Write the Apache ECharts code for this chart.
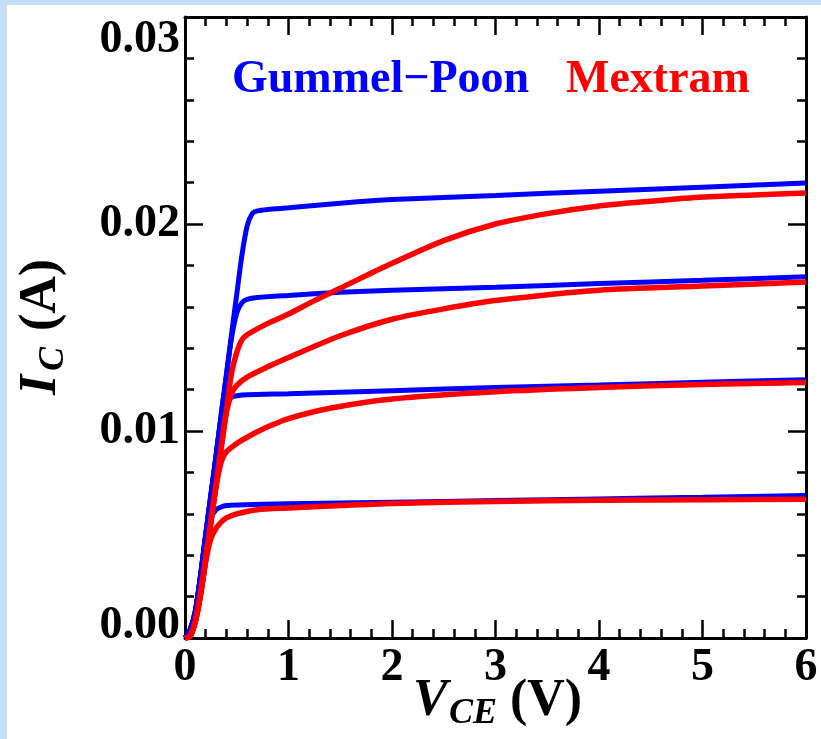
<!DOCTYPE html>
<html>
<head>
<meta charset="utf-8">
<script src="https://cdn.jsdelivr.net/npm/echarts@6/dist/echarts.min.js"></script>
<style>
  html, body { margin: 0; padding: 0; background: #c4e0f9; }
  #paper { position: absolute; left: 7px; top: 5px; right: 0; bottom: 0; background: #ffffff; }
  #chart { position: absolute; left: 0; top: 0; width: 821px; height: 739px; }
</style>
</head>
<body>
<div id="paper"></div>
<div id="chart"></div>
<script>
// Output characteristics I_C(V_CE) at four base drives, two compact models.
// Each curve is a list of [V_CE (V), I_C (A)] pairs.

// Gummel-Poon model
const gp1 = [[0,0],[0.05,0.0004],[0.1,0.0013],[0.15,0.0030],[0.2,0.0050],[0.25,0.0069],[0.3,0.0088],[0.35,0.0108],[0.4,0.0127],[0.45,0.0147],[0.5,0.0166],[0.55,0.0185],[0.6,0.0199],[0.65,0.0205],[0.7,0.02063],[0.8,0.0207],[1,0.02078],[1.5,0.0210],[2,0.02118],[3,0.02138],[4,0.02158],[5,0.02178],[6,0.02198]];
const gp2 = [[0,0],[0.05,0.0004],[0.1,0.0013],[0.15,0.0030],[0.2,0.0050],[0.25,0.0069],[0.3,0.0088],[0.35,0.0108],[0.4,0.0127],[0.45,0.0145],[0.5,0.0157],[0.55,0.0162],[0.6,0.01636],[0.7,0.01645],[1,0.01655],[1.5,0.0167],[2,0.0168],[3,0.01695],[4,0.01712],[5,0.01728],[6,0.01745]];
const gp3 = [[0,0],[0.05,0.0004],[0.1,0.0013],[0.15,0.0030],[0.2,0.0050],[0.25,0.0069],[0.3,0.0088],[0.35,0.0106],[0.4,0.0114],[0.45,0.01163],[0.5,0.0117],[0.6,0.01175],[1,0.0118],[2,0.01195],[3,0.0121],[4,0.01222],[5,0.01235],[6,0.01248]];
const gp4 = [[0,0],[0.05,0.0004],[0.1,0.0013],[0.15,0.0030],[0.2,0.0049],[0.25,0.0058],[0.3,0.0062],[0.35,0.00633],[0.4,0.0064],[0.5,0.00643],[1,0.00648],[2,0.00656],[3,0.00664],[4,0.00672],[5,0.0068],[6,0.00689]];

// Mextram model
const mx1 = [[0,0],[0.05,0.0001],[0.1,0.0008],[0.15,0.0021],[0.2,0.0038],[0.25,0.0056],[0.3,0.0074],[0.35,0.0092],[0.4,0.0110],[0.45,0.0128],[0.5,0.0138],[0.55,0.0144],[0.6,0.01465],[0.8,0.0152],[1,0.01565],[1.25,0.0163],[1.5,0.0169],[2,0.0181],[2.5,0.0192],[3,0.0200],[3.5,0.0205],[4,0.02087],[4.5,0.0211],[5,0.0213],[5.5,0.0214],[6,0.0215]];
const mx2 = [[0,0],[0.05,0.0001],[0.1,0.0008],[0.15,0.0021],[0.2,0.0038],[0.25,0.0056],[0.3,0.0074],[0.35,0.0092],[0.4,0.0109],[0.45,0.0118],[0.5,0.0122],[0.6,0.0126],[0.8,0.0131],[1,0.01355],[1.5,0.0146],[2,0.0154],[2.5,0.0159],[3,0.0163],[4,0.0168],[5,0.0170],[6,0.0172]];
const mx3 = [[0,0],[0.05,0.0001],[0.1,0.0008],[0.15,0.0021],[0.2,0.0038],[0.25,0.0056],[0.3,0.0073],[0.35,0.0085],[0.4,0.0090],[0.5,0.0094],[0.6,0.0097],[0.8,0.0102],[1,0.0106],[1.4,0.0111],[2,0.01155],[3,0.0119],[4,0.0121],[5,0.01225],[6,0.01234]];
const mx4 = [[0,0],[0.05,0.0001],[0.1,0.0008],[0.15,0.0021],[0.2,0.0037],[0.25,0.0048],[0.3,0.0053],[0.35,0.0056],[0.4,0.0058],[0.5,0.0060],[0.7,0.0062],[1,0.00628],[1.5,0.0064],[2,0.0065],[3,0.0066],[4,0.00665],[5,0.00668],[6,0.0067]];

const gpCurves = [gp1, gp2, gp3, gp4];
const mxCurves = [mx1, mx2, mx3, mx4];

// axis ranges
const xMin = 0, xMax = 6, xStep = 1;
const yMin = 0, yMax = 0.03, yStep = 0.01;

const SERIF = '"Liberation Serif", "Times New Roman", serif';
const BLUE = '#0000ff';
const RED = '#ff0000';

const chart = echarts.init(document.getElementById('chart'), null, { renderer: 'canvas' });

function frameAxis(extra) {
  return Object.assign({
    axisLine: { show: true, onZero: false, lineStyle: { color: '#000', width: 3 } },
    axisTick: { show: true, inside: true, length: 18, lineStyle: { color: '#000', width: 2.5 } },
    minorTick: { show: true, splitNumber: 5, length: 9, lineStyle: { color: '#000', width: 2.5 } },
    splitLine: { show: false },
    minorSplitLine: { show: false }
  }, extra);
}

const series = [];
gpCurves.forEach((d, i) => series.push({
  name: 'Gummel-Poon ' + (i + 1), type: 'line', data: d, xAxisIndex: 0, yAxisIndex: 0,
  showSymbol: false, smooth: 0.25, lineStyle: { color: BLUE, width: 5 }, z: 2, animation: false
}));
mxCurves.forEach((d, i) => series.push({
  name: 'Mextram ' + (i + 1), type: 'line', data: d, xAxisIndex: 0, yAxisIndex: 0,
  showSymbol: false, smooth: 0.25, lineStyle: { color: RED, width: 5.5 }, z: 3, animation: false
}));

chart.setOption({
  animation: false,
  grid: { left: 185, top: 17, right: 15, bottom: 101, containLabel: false },
  xAxis: [
    frameAxis({
      type: 'value', position: 'bottom', min: xMin, max: xMax, interval: xStep,
      axisLabel: { show: true, margin: 7, color: '#000', fontFamily: SERIF, fontWeight: 'bold', fontSize: 46,
        formatter: v => String(v) }
    }),
    frameAxis({
      type: 'value', position: 'top', min: xMin, max: xMax, interval: xStep,
      axisLabel: { show: false }
    })
  ],
  yAxis: [
    frameAxis({
      type: 'value', position: 'left', min: yMin, max: yMax, interval: yStep,
      axisLabel: { show: true, margin: 5, color: '#000', fontFamily: SERIF, fontWeight: 'bold', fontSize: 46,
        verticalAlignMinLabel: 'bottom', verticalAlignMaxLabel: 'top',
        formatter: v => v === yMin ? '{low|' + v.toFixed(2) + '}' : v.toFixed(2),
        rich: { low: { fontFamily: SERIF, fontWeight: 'bold', fontSize: 46, color: '#000', lineHeight: 24 } } }
    }),
    frameAxis({
      type: 'value', position: 'right', min: yMin, max: yMax, interval: yStep,
      axisLabel: { show: false }
    })
  ],
  series: series,
  graphic: [
    { type: 'text', left: 232, top: 57, silent: true,
      style: { text: 'Gummel\u2212Poon', fill: BLUE, font: 'bold 46px ' + SERIF } },
    { type: 'text', left: 566, top: 57, silent: true,
      style: { text: 'Mextram', fill: RED, font: 'bold 46px ' + SERIF } },
    // x axis title: V_CE (V)
    { type: 'group', x: 413, y: 702, silent: true, children: [
      { type: 'text', x: 0, y: 0, style: { text: 'V', fill: '#000', font: 'italic bold 52px ' + SERIF, align: 'left', verticalAlign: 'middle' } },
      { type: 'text', x: 36, y: 12, style: { text: 'CE', fill: '#000', font: 'italic bold 36px ' + SERIF, align: 'left', verticalAlign: 'middle' } },
      { type: 'text', x: 97, y: 0, style: { text: '(V)', fill: '#000', font: 'bold 52px ' + SERIF, align: 'left', verticalAlign: 'middle' } }
    ] },
    // y axis title: I_C (A), reading upwards
    { type: 'group', x: 42, y: 395, rotation: Math.PI / 2, silent: true, children: [
      { type: 'text', x: 0, y: 0, style: { text: 'I', fill: '#000', font: 'italic bold 52px ' + SERIF, align: 'left', verticalAlign: 'middle' } },
      { type: 'text', x: 24, y: 12, style: { text: 'C', fill: '#000', font: 'italic bold 36px ' + SERIF, align: 'left', verticalAlign: 'middle' } },
      { type: 'text', x: 64, y: 0, style: { text: '(A)', fill: '#000', font: 'bold 52px ' + SERIF, align: 'left', verticalAlign: 'middle' } }
    ] }
  ]
});
</script>
</body>
</html>
